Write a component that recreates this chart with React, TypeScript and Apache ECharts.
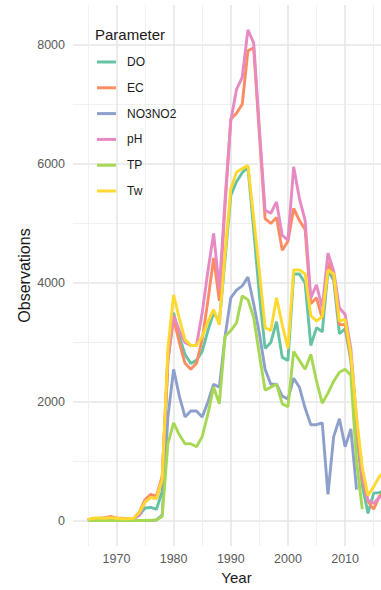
import { useEffect, useRef } from "react";
import * as echarts from "echarts";

const years = [
  1965, 1966, 1967, 1968, 1969, 1970, 1971, 1972, 1973, 1974,
  1975, 1976, 1977, 1978, 1979, 1980, 1981, 1982, 1983, 1984,
  1985, 1986, 1987, 1988, 1989, 1990, 1991, 1992, 1993, 1994,
  1995, 1996, 1997, 1998, 1999, 2000, 2001, 2002, 2003, 2004,
  2005, 2006, 2007, 2008, 2009, 2010, 2011, 2012, 2013, 2014,
  2015, 2016, 2017,
];

const seriesNames = ["DO", "EC", "NO3NO2", "pH", "TP", "Tw"];
const seriesColors = ["#66C2A5", "#FC8D62", "#8DA0CB", "#E78AC3", "#A6D854", "#FFD92F"];

const DO = [
  20, 30, 30, 40, 40, 30, 30, 30, 40, 100,
  220, 230, 200, 500, 2700, 3500, 3100, 2800, 2650, 2700,
  2850, 3200, 3500, 3350, 4400, 5470, 5700, 5850, 5950, 4900,
  3800, 2900, 3000, 3350, 2750, 2700, 4150, 4150, 4000, 2950,
  3250, 3180, 4200, 4050, 3150, 3230, 2700, 1500, 600, 130,
  470, 480, 520,
];
const EC = [
  20, 40, 50, 60, 80, 50, 50, 40, 40, 150,
  360, 450, 420, 750, 2700, 3400, 3000, 2650, 2550, 2650,
  3050, 3700, 4420, 3700, 5300, 6750, 6850, 7000, 7900, 7950,
  6500, 5080, 5000, 5100, 4550, 4700, 5250, 5050, 4900, 3650,
  3750, 3400, 4350, 4100, 3300, 3300, 2750, 1600, 700, 330,
  200, 420, 500,
];
const NO3NO2 = [
  10, 10, 10, 10, 10, 10, 10, 10, 10, 10,
  10, 10, 20, 100, 1750, 2550, 2100, 1750, 1850, 1850,
  1750, 2000, 2300, 2250, 3100, 3750, 3880, 3950, 4100, 3650,
  3150, 2550, 2300, 2300, 2100, 2050, 2400, 2250, 1900, 1620,
  1620, 1650, 450, 1420, 1720, 1250, 1550, 530, null, null,
  null, null, null,
];
const pH = [
  20, 40, 40, 50, 60, 40, 40, 30, 40, 100,
  330, 400, 380, 700, 2800, 3450, 3200, 3000, 2950, 2950,
  3500, 4200, 4830, 3900, 5400, 6720, 7250, 7450, 8250, 8030,
  6600, 5220, 5170, 5360, 4800, 4720, 5950, 5420, 5050, 3750,
  3970, 3580, 4500, 4200, 3580, 3470, 2900, 1700, 800, 350,
  300, 400, 450,
];
const TP = [
  10, 10, 10, 10, 10, 10, 10, 10, 10, 10,
  10, 15, 20, 80, 1300, 1650, 1450, 1300, 1300, 1250,
  1420, 1800, 2250, 1970, 3100, 3200, 3330, 3780, 3720, 3420,
  2800, 2200, 2250, 2300, 1970, 1920, 2850, 2700, 2550, 2800,
  2350, 1980, 2150, 2350, 2500, 2550, 2450, 1000, 200, null,
  null, null, null,
];
const Tw = [
  30, 50, 55, 50, 60, 50, 40, 40, 50, 150,
  320, 400, 380, 700, 2900, 3800, 3400, 3050, 2950, 2950,
  3100, 3350, 3550, 3300, 4500, 5580, 5860, 5920, 5970, 5100,
  4200, 3250, 3200, 3750, 3300, 2900, 4220, 4220, 4150, 3450,
  3360, 3440, 4220, 4150, 3360, 3390, 2800, 1750, 900, 430,
  580, 750, 850,
];

const seriesValues = [DO, EC, NO3NO2, pH, TP, Tw];

const xMajorTicks = [1970, 1980, 1990, 2000, 2010];
const xMinorTicks = [1965, 1975, 1985, 1995, 2005, 2015];
const yMajorTicks = [0, 2000, 4000, 6000, 8000];
const yMinorTicks = [1000, 3000, 5000, 7000];

const X_MIN = 1962.4;
const X_MAX = 2019.6;
const Y_MIN = -417;
const Y_MAX = 8667;

const FONT = "Liberation Sans, Arial, Helvetica, sans-serif";

export default function App() {
  const ref = useRef<HTMLDivElement>(null);

  useEffect(() => {
    if (!ref.current) return;
    const chart = echarts.init(ref.current, undefined, { renderer: "svg" });

    const series = seriesNames.map((name, i) => ({
      name,
      type: "line",
      xAxisIndex: 0,
      yAxisIndex: 0,
      showSymbol: false,
      symbol: "none",
      clip: false,
      color: seriesColors[i],
      lineStyle: { width: 2.9, color: seriesColors[i] },
      data: years
        .map((yr, j) => [yr, seriesValues[i][j]])
        .filter((d) => d[1] !== null && d[1] !== undefined),
      z: 3,
    }));

    const option = {
      animation: false,
      backgroundColor: "#ffffff",
      textStyle: { fontFamily: FONT },
      title: {
        text: "Parameter",
        left: 95,
        top: 27,
        padding: 0,
        textStyle: { fontSize: 15, fontWeight: "normal", color: "#1a1a1a", fontFamily: FONT },
      },
      legend: {
        orient: "vertical",
        left: 97,
        top: 55,
        padding: 0,
        icon: "rect",
        itemWidth: 19,
        itemHeight: 3,
        itemGap: 11.8,
        data: seriesNames,
        textStyle: {
          fontSize: 12,
          color: "#1a1a1a",
          lineHeight: 14,
          padding: [0, 0, 0, 6],
          fontFamily: FONT,
        },
      },
      grid: { left: 73, top: 5, width: 327, height: 545, containLabel: false },
      xAxis: [
        {
          type: "value",
          min: X_MIN,
          max: X_MAX,
          axisLine: { show: false },
          axisTick: { show: false, customValues: xMajorTicks },
          axisLabel: {
            customValues: xMajorTicks,
            color: "#5a5a5a",
            fontSize: 12.5,
            margin: 6,
            fontFamily: FONT,
            formatter: (v: number) => String(Math.round(v)),
          },
          splitLine: { show: true, lineStyle: { color: "#e6e6e6", width: 1.6 } },
          name: "Year",
          nameLocation: "middle",
          nameGap: 24,
          nameTextStyle: { fontSize: 15, color: "#1a1a1a", fontFamily: FONT },
        },
        {
          type: "value",
          min: X_MIN,
          max: X_MAX,
          position: "top",
          axisLine: { show: false },
          axisTick: { show: false, customValues: xMinorTicks },
          axisLabel: { show: false, customValues: xMinorTicks },
          splitLine: { show: true, lineStyle: { color: "#f0f0f0", width: 1 } },
        },
      ],
      yAxis: [
        {
          type: "value",
          min: Y_MIN,
          max: Y_MAX,
          axisLine: { show: false },
          axisTick: { show: false, customValues: yMajorTicks },
          axisLabel: {
            customValues: yMajorTicks,
            color: "#5a5a5a",
            fontSize: 12.5,
            margin: 8,
            fontFamily: FONT,
            formatter: (v: number) => String(Math.round(v)),
          },
          splitLine: { show: true, lineStyle: { color: "#e6e6e6", width: 1.6 } },
          name: "Observations",
          nameLocation: "middle",
          nameGap: 41,
          nameMoveOverlap: false,
          nameRotate: 90,
          nameTextStyle: { fontSize: 16, color: "#1a1a1a", fontFamily: FONT },
        },
        {
          type: "value",
          min: Y_MIN,
          max: Y_MAX,
          position: "right",
          axisLine: { show: false },
          axisTick: { show: false, customValues: yMinorTicks },
          axisLabel: { show: false, customValues: yMinorTicks },
          splitLine: { show: true, lineStyle: { color: "#f0f0f0", width: 1 } },
        },
      ],
      series,
    };

    chart.setOption(option as any);
    return () => chart.dispose();
  }, []);

  return (
    <div
      style={{
        position: "fixed",
        left: 0,
        top: 0,
        width: 381,
        height: 590,
        overflow: "hidden",
        background: "#ffffff",
      }}
    >
      <div ref={ref} style={{ width: 420, height: 590 }} />
    </div>
  );
}
